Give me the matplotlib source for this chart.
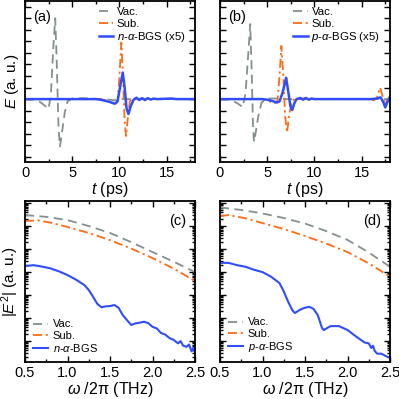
import matplotlib
matplotlib.use("Agg")
import matplotlib.pyplot as plt
import numpy as np
from matplotlib.ticker import MultipleLocator, LogLocator, NullFormatter

plt.rcParams['font.family'] = ['Liberation Sans', 'DejaVu Sans']
plt.rcParams['mathtext.fontset'] = 'custom'
plt.rcParams['mathtext.rm'] = 'Liberation Sans'
plt.rcParams['mathtext.it'] = 'Liberation Sans:italic'
plt.rcParams['mathtext.bf'] = 'Liberation Sans:bold'

# ---------------- Data: time domain (a) ----------------
a_vac_t = [0, 1.0, 1.5, 2.0, 2.5, 2.75, 3.0, 3.2, 3.35, 3.55, 3.7, 3.9, 4.2, 4.5, 5.0, 6.0, 7.0, 8.0, 9.0, 9.5, 10.0, 12.0, 18.0]
a_vac_E = [0, -0.05, -0.2, -0.5, -0.85, 0.5, 4.5, 7.0, 3.5, -2.5, -4.1, -3.0, -1.2, -0.2, 0.05, 0.08, 0.05, 0.0, -0.05, -0.1, 0.0, 0.0, 0.0]

a_sub_t = [0, 8.0, 8.5, 9.0, 9.5, 9.8, 10.0, 10.2, 10.35, 10.55, 10.7, 10.9, 11.1, 11.4, 11.8, 12.3, 13.0, 13.3, 14.0, 18.0]
a_sub_E = [0, 0.0, -0.1, -0.25, -0.5, -0.2, 2.0, 4.9, 2.5, -2.0, -3.2, -1.5, -0.2, 0.1, -0.05, 0.05, 0.0, 0.05, 0.0, 0.0]

a_smp_t = [0, 7.5, 8.0, 8.5, 9.0, 9.5, 9.8, 10.1, 10.35, 10.55, 10.75, 10.95, 11.2, 11.5, 11.8, 12.1, 12.4, 12.7, 13.0, 13.3, 13.6, 14.0, 15.5, 16.0, 18.0]
a_smp_E = [0, 0.0, -0.05, -0.15, -0.25, -0.4, -0.2, 1.2, 2.3, 1.0, -0.8, -1.3, -0.6, -0.05, 0.12, -0.08, 0.08, -0.08, 0.08, -0.04, 0.04, 0.0, 0.05, 0.0, 0.0]

# ---------------- Data: time domain (b) ----------------
b_vac_t = [0, 1.0, 1.5, 2.0, 2.4, 2.7, 3.0, 3.2, 3.35, 3.5, 3.6, 3.8, 4.05, 4.4, 5.0, 6.0, 7.0, 18.0]
b_vac_E = [0, -0.05, -0.2, -0.45, -0.7, 0.5, 4.0, 6.5, 2.5, -2.5, -3.7, -2.8, -1.5, -0.3, 0.05, 0.05, 0.0, 0.0]

b_sub_t = [0, 4.5, 5.0, 5.5, 5.8, 6.1, 6.3, 6.5, 6.7, 6.9, 7.1, 7.3, 7.6, 8.0, 8.5, 9.0, 9.5, 16.0, 16.3, 16.6, 16.95, 17.2, 17.45, 17.7, 18.0]
b_sub_E = [0, 0.0, -0.1, -0.3, -0.35, -0.1, 2.0, 4.6, 2.0, -1.5, -2.9, -1.5, -0.2, 0.1, 0.0, 0.1, 0.0, 0.0, -0.1, 0.1, 1.0, 0.3, -0.5, -0.1, 0.2]

b_smp_t = [0, 4.5, 5.0, 5.5, 6.0, 6.3, 6.6, 6.85, 7.0, 7.2, 7.45, 7.65, 7.85, 8.1, 8.5, 8.8, 9.1, 9.4, 9.7, 10.0, 16.0, 16.6, 17.0, 17.25, 17.5, 17.7, 18.0]
b_smp_E = [0, 0.0, -0.05, -0.15, -0.3, -0.2, 0.5, 1.3, 1.85, 0.8, -0.6, -0.95, -0.4, 0.0, 0.1, -0.05, 0.1, -0.05, 0.05, 0.0, 0.0, 0.05, 0.15, -0.2, -0.72, -0.3, 0.2]

# ---------------- Data: spectra (log10 of |E^2|) ----------------
c_vac_f = [0.5, 0.75, 1.0, 1.25, 1.5, 1.75, 2.0, 2.25, 2.5]
c_vac_L = [-0.52, -0.6, -0.74, -1.0, -1.30, -1.70, -2.13, -2.55, -3.0]
c_sub_f = [0.5, 0.65, 0.8, 1.0, 1.25, 1.5, 1.75, 2.0, 2.25, 2.5]
c_sub_L = [-0.78, -0.75, -0.85, -1.04, -1.30, -1.61, -1.98, -2.39, -2.85, -3.39]
c_smp_f = [0.5, 0.6, 0.7, 0.8, 0.9, 1.0, 1.1, 1.2, 1.25, 1.3, 1.35, 1.4, 1.45, 1.5, 1.55, 1.6, 1.65, 1.7, 1.75, 1.8, 1.85, 1.9, 1.95, 2.0, 2.05, 2.1, 2.15, 2.2, 2.25, 2.3, 2.33, 2.36, 2.4, 2.43, 2.46, 2.48, 2.5]
c_smp_L = [-2.74, -2.70, -2.76, -2.84, -2.97, -3.13, -3.33, -3.57, -3.78, -4.07, -4.38, -4.53, -4.49, -4.48, -4.43, -4.55, -4.87, -5.09, -5.30, -5.23, -5.20, -5.16, -5.22, -5.38, -5.45, -5.65, -5.72, -5.87, -5.95, -6.10, -6.00, -6.20, -6.25, -6.15, -6.45, -6.30, -6.50]

d_vac_f = [0.5, 0.75, 1.0, 1.25, 1.5, 1.75, 2.0, 2.25, 2.5]
d_vac_L = [-0.19, -0.30, -0.45, -0.65, -0.89, -1.22, -1.60, -2.15, -2.77]
d_sub_f = [0.5, 0.6, 0.8, 1.0, 1.25, 1.5, 1.75, 2.0, 2.25, 2.5]
d_sub_L = [-0.57, -0.52, -0.66, -0.87, -1.13, -1.43, -1.76, -2.13, -2.62, -3.2]
d_smp_f = [0.5, 0.6, 0.7, 0.8, 0.9, 1.0, 1.1, 1.2, 1.25, 1.3, 1.35, 1.38, 1.45, 1.5, 1.55, 1.6, 1.65, 1.7, 1.72, 1.8, 1.9, 2.0, 2.1, 2.2, 2.25, 2.28, 2.3, 2.32, 2.35, 2.4, 2.45, 2.5]
d_smp_L = [-2.60, -2.60, -2.70, -2.77, -2.90, -3.00, -3.20, -3.48, -3.84, -4.28, -4.65, -4.78, -4.62, -4.55, -4.51, -4.60, -4.87, -5.43, -5.52, -5.35, -5.35, -5.52, -5.80, -6.06, -6.10, -6.30, -6.20, -6.43, -6.55, -6.55, -6.65, -6.73]

labels_ab = ["Vac.", "Sub."]
smp_a = r"$n$-$\alpha$-BGS (x5)"
smp_b = r"$p$-$\alpha$-BGS (x5)"
smp_c = r"$n$-$\alpha$-BGS"
smp_d = r"$p$-$\alpha$-BGS"

C_VAC = "#84908f"
C_SUB = "#ff6a14"
C_SMP = "#2f4dff"

fig = plt.figure(figsize=(3.99, 3.99), dpi=100)
W = 170 / 399
H = 161 / 399
ax_a = fig.add_axes([25 / 399, 1 - 162 / 399, W, H])
ax_b = fig.add_axes([220 / 399, 1 - 162 / 399, W, H])
ax_c = fig.add_axes([25 / 399, 1 - 362 / 399, W, H])
ax_d = fig.add_axes([220 / 399, 1 - 362 / 399, W, H])

def style(ax):
    ax.tick_params(which='both', direction='in', top=True, right=True,
                   labelsize=10.5, pad=3, width=1.0)
    ax.tick_params(which='major', length=4)
    ax.tick_params(which='minor', length=2.5)
    for s in ax.spines.values():
        s.set_linewidth(1.3)

dash = (0, (5, 3))
dashdot = (0, (5, 2, 1.2, 2))

for ax, vt, ve, st, se, pt, pe, lab, tag in [
        (ax_a, a_vac_t, a_vac_E, a_sub_t, a_sub_E, a_smp_t, a_smp_E, smp_a, "(a)"),
        (ax_b, b_vac_t, b_vac_E, b_sub_t, b_sub_E, b_smp_t, b_smp_E, smp_b, "(b)")]:
    ax.plot(vt, ve, color=C_VAC, lw=1.3, ls=dash, label=labels_ab[0])
    ax.plot(st, se, color=C_SUB, lw=1.3, ls=dashdot, label=labels_ab[1])
    ax.plot(pt, pe, color=C_SMP, lw=1.8, label=lab)
    ax.set_xlim(0, 18)
    ax.set_ylim(-5.45, 8.5)
    ax.xaxis.set_major_locator(MultipleLocator(5))
    ax.xaxis.set_minor_locator(MultipleLocator(2.5))
    ax.yaxis.set_major_locator(MultipleLocator(1))
    ax.set_yticklabels([])
    style(ax)
    ax.set_xlabel(r"$t$ (ps)", fontsize=11.5, labelpad=0)
    ax.text(0.047, 0.945, tag, transform=ax.transAxes, fontsize=10.5, ha='left', va='top')
    ax.legend(loc='upper right', bbox_to_anchor=(1.0, 1.02), frameon=False, fontsize=8.2,
              handlelength=1.3, handletextpad=0.3, labelspacing=0.1, borderaxespad=0.45)
ax_a.set_ylabel(r"$E$ (a. u.)", fontsize=11)
ax_a.yaxis.set_label_coords(-0.025, 0.5)

for ax, vf, vl, sf, sl, pf, pl, lab, tag in [
        (ax_c, c_vac_f, c_vac_L, c_sub_f, c_sub_L, c_smp_f, c_smp_L, smp_c, "(c)"),
        (ax_d, d_vac_f, d_vac_L, d_sub_f, d_sub_L, d_smp_f, d_smp_L, smp_d, "(d)")]:
    ax.plot(vf, 10 ** np.array(vl), color=C_VAC, lw=1.3, ls=dash, label=labels_ab[0])
    ax.plot(sf, 10 ** np.array(sl), color=C_SUB, lw=1.3, ls=dashdot, label=labels_ab[1])
    ax.plot(pf, 10 ** np.array(pl), color=C_SMP, lw=1.5, label=lab)
    ax.set_yscale('log')
    ax.set_xlim(0.5, 2.5)
    ax.set_ylim(10 ** -6.91, 10 ** 0.09)
    ax.xaxis.set_major_locator(MultipleLocator(0.5))
    ax.xaxis.set_minor_locator(MultipleLocator(0.25))
    ax.xaxis.set_major_formatter(matplotlib.ticker.FormatStrFormatter('%.1f'))
    ax.yaxis.set_major_locator(LogLocator(base=10, numticks=20))
    ax.yaxis.set_minor_locator(LogLocator(base=10, subs=np.arange(2, 10), numticks=20))
    ax.yaxis.set_major_formatter(NullFormatter())
    ax.yaxis.set_minor_formatter(NullFormatter())
    style(ax)
    ax.set_xlabel(r"$\omega$ /2$\mathrm{\pi}$ (THz)", fontsize=11.5, labelpad=0)
    ax.text(0.95, 0.92, tag, transform=ax.transAxes, fontsize=10.5, ha='right', va='top')
    ax.legend(loc='lower left', bbox_to_anchor=(0.0, 0.0), frameon=False, fontsize=8,
              handlelength=1.3, handletextpad=0.45, labelspacing=0.1, borderaxespad=0.35)
ax_c.set_ylabel(r"|$E^2$| (a. u.)", fontsize=11)
ax_c.yaxis.set_label_coords(-0.025, 0.5)

fig.savefig("out.png", dpi=100)
